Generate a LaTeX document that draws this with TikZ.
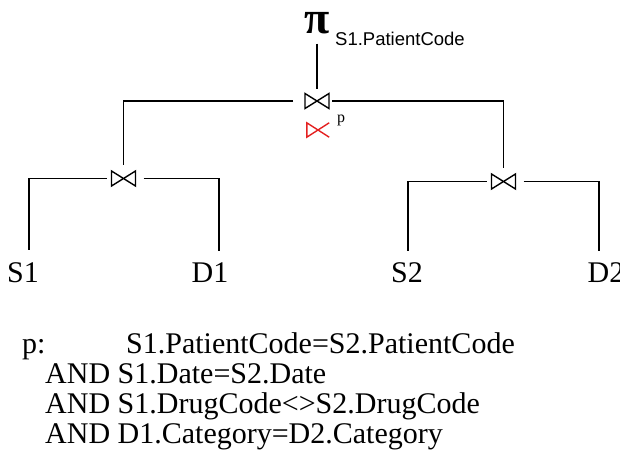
\documentclass[tikz,border=0pt]{standalone}
\usepackage{fontspec}
\setmainfont{Liberation Serif}
\newfontfamily\attrfont{Liberation Sans}
\usetikzlibrary{positioning}
\definecolor{SemiRed}{RGB}{228,32,32}
\tikzset{
  joinop/.style={minimum width=24pt,minimum height=15pt,inner sep=0pt,
    outer sep=0pt},
  tie/.style={line width=1.4pt,line join=miter},
  link/.style={line width=1.3pt},
  leaf/.style={font=\fontsize{30}{30}\selectfont,inner sep=0pt,anchor=base},
  cond/.style={font=\fontsize{30}{30}\selectfont,inner sep=0pt,
    anchor=base west}
}

\begin{document}
\begin{tikzpicture}[x=1pt,y=-1pt]
\useasboundingbox (0,0) rectangle (620,455);

% Projection
\node[font=\bfseries\fontsize{46}{46}\selectfont,inner sep=0pt,anchor=base]
  (proj) at (317,33) {\smash{π}};
\node[font=\attrfont\fontsize{18.5}{18.5}\selectfont,inner sep=0pt,
  anchor=base west] (attr) at (335,45) {S1.PatientCode};

% Join operators
\node[joinop] (j0) at (317,101) {};
\node[joinop] (j1) at (123.5,178.5) {};
\node[joinop] (j2) at (503.5,181.5) {};
\foreach \j in {j0,j1,j2}
  \draw[tie] (\j.north west) -- (\j.south east) -- (\j.north east)
    -- (\j.south west) -- cycle;

% Semijoin marker and predicate name
\node[minimum width=22pt,minimum height=14pt,inner sep=0pt] (semi) at (318,130) {};
\draw[tie,SemiRed] (semi.north east) -- (semi.south west) -- (semi.north west)
  -- (semi.south east);
\node[font=\fontsize{16}{16}\selectfont,inner sep=0pt,anchor=base west]
  (plab) at (337,122) {p};

% Relations
\node[leaf] (s1) at (23,282) {S1};
\node[leaf] (d1) at (210,282) {D1};
\node[leaf] (s2) at (407,282) {S2};
\node[leaf] (d2) at (606,282) {D2};

% Tree edges
\draw[link,shorten <=10pt,shorten >=5pt] (proj.south) -- (j0);
\draw[link,shorten <=12pt,shorten >=6pt] (j0.west) -| (j1.north);
\draw[link,shorten <=3pt,shorten >=6pt] (j0.east) -| (j2.north);
\draw[link,shorten <=5pt,shorten >=12pt] (j1.west) -| ([xshift=6pt]s1.north);
\draw[link,shorten <=8pt,shorten >=11pt] (j1.east) -| ([xshift=9pt]d1.north);
\draw[link,shorten <=5pt,shorten >=11pt] (j2.west) -| ([xshift=1pt]s2.north);
\draw[link,shorten <=8pt,shorten >=11pt] (j2.east) -| ([xshift=-7pt]d2.north);

% Join predicate
\node[cond] (pname) at (22,353) {p:};
\node[cond] (c1) at (126,353) {S1.PatientCode=S2.PatientCode};
\node[cond] (c2) at (45,383) {AND S1.Date=S2.Date};
\node[cond] (c3) at (45,413) {AND S1.DrugCode<>S2.DrugCode};
\node[cond] (c4) at (45,443) {AND D1.Category=D2.Category};

\end{tikzpicture}
\end{document}
